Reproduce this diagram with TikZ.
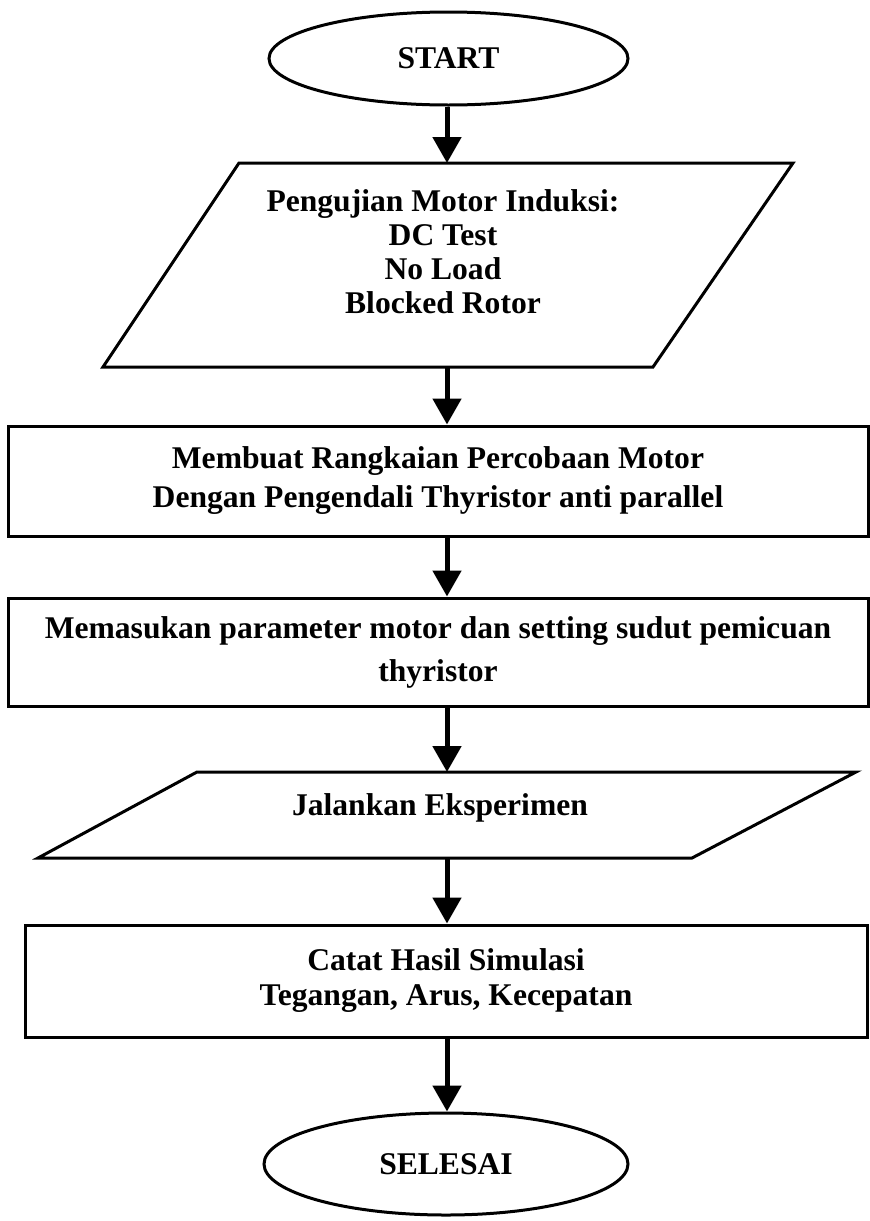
\documentclass[tikz,border=0pt]{standalone}
\usepackage{fontspec}
\setmainfont{Liberation Serif}
\usetikzlibrary{shapes.geometric,arrows.meta,calc}
\begin{document}
\begin{tikzpicture}[x=1pt,y=-1pt,
  outline/.style={draw=black,line width=3pt,line join=miter},
  txt/.style={font=\bfseries\fontsize{31.6}{35}\selectfont,align=center,inner sep=0pt},
  terminal/.style={ellipse,outline,txt},
  procbox/.style={rectangle,outline,txt},
  ioframe/.style={rectangle,inner sep=0pt,outer sep=0pt},
  flow/.style={draw=black,line width=5pt,-{Triangle[width=28pt,length=26pt]}},
]
\useasboundingbox (0,0) rectangle (870,1221);
\fill[white] (0,0) rectangle (870,1221);

% vertical axis shared by all connectors
\coordinate (spine) at (447,0);

% start terminal
\node[terminal,minimum width=359pt,minimum height=93pt] (start) at (448.5,58.5) {START};

% input: induction motor tests
\node[ioframe,minimum width=400pt,minimum height=204pt] (p1) at (447,265) {};
\draw[outline] ($(p1.north)+(-208,0)$) -- ($(p1.north)+(346,0)$)
  -- ($(p1.south)+(206,0)$) -- ($(p1.south)+(-344,0)$) -- cycle;
\node[txt,font=\bfseries\fontsize{31.6}{34}\selectfont] (p1text) at (443,252)
  {Pengujian Motor Induksi:\\DC Test\\No Load\\Blocked Rotor};

% process: build the test circuit
\node[procbox,minimum width=860pt,minimum height=110pt] (r1) at (438,481)
  {Membuat Rangkaian Percobaan Motor\\[4pt]Dengan Pengendali Thyristor anti parallel};

% process: enter parameters
\node[procbox,minimum width=860pt,minimum height=108pt] (r2) at (438,652)
  {Memasukan parameter motor dan setting sudut pemicuan\\[8pt]thyristor};

% input: run the experiment
\node[ioframe,minimum width=400pt,minimum height=86pt] (p2) at (447,815) {};
\draw[outline] ($(p2.north)+(-250,0)$) -- ($(p2.north)+(409,0)$)
  -- ($(p2.south)+(245,0)$) -- ($(p2.south)+(-409,0)$) -- cycle;
\node[txt] (p2text) at (440,808) {Jalankan Eksperimen};

% process: record results
\node[procbox,minimum width=842pt,minimum height=112pt] (r3) at (446,981)
  {Catat Hasil Simulasi\\Tegangan, Arus, Kecepatan};

% end terminal
\node[terminal,minimum width=364pt,minimum height=102pt] (stop) at (446,1164) {SELESAI};

% connectors
\draw[flow] (start.south -| spine) -- (p1.north -| spine);
\draw[flow] (p1.south -| spine) -- (r1.north -| spine);
\draw[flow] (r1.south -| spine) -- (r2.north -| spine);
\draw[flow] (r2.south -| spine) -- (p2.north -| spine);
\draw[flow] (p2.south -| spine) -- (r3.north -| spine);
\draw[flow] (r3.south -| spine) -- (stop.north -| spine);
\end{tikzpicture}
\end{document}
